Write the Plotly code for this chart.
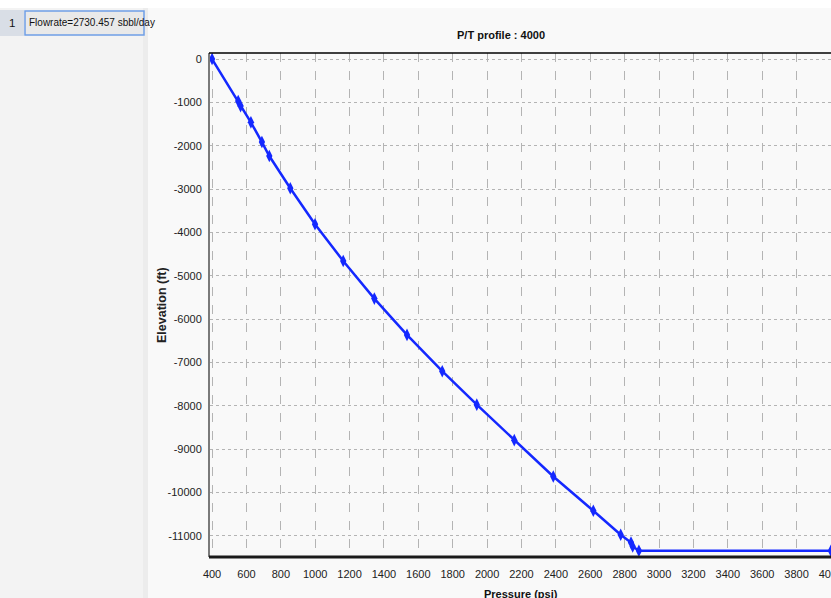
import plotly.graph_objects as go

# ---- data ----
pressure_psi = [400, 552, 566, 626, 690, 733, 855, 999, 1163, 1344, 1534, 1739, 1940,
                2158, 2385, 2618, 2777, 2837, 2847, 2883, 4000]
elevation_ft = [0, -970, -1085, -1460, -1915, -2237, -2982, -3813, -4659, -5527, -6365,
                -7203, -7975, -8794, -9633, -10424, -10978, -11155, -11248, -11347, -11347]
x_ticks = list(range(400, 4001, 200))
y_ticks = list(range(0, -11001, -1000))
y_tick_text = [str(v) for v in y_ticks]
chart_title = "P/T profile : 4000"
x_title = "Pressure (psi)"
y_title = "Elevation (ft)"
panel_item_no = "1"
panel_item_text = "Flowrate=2730.457 sbbl/day"

W, H = 831, 598
L, R, T, B = 210, 831, 53, 557


def px(x):
    return (x - L) / (R - L)


def py(y):
    return (B - y) / (B - T)


FAM = "Liberation Sans, Arial, sans-serif"


def nf(size, color="#222222", weight="normal"):
    return dict(family=FAM, size=size, color=color, weight=weight)


fig = go.Figure()
fig.add_trace(go.Scatter(
    x=pressure_psi, y=elevation_ft, mode="lines+markers",
    line=dict(color="#1428ff", width=2.5),
    marker=dict(symbol="diamond-tall", size=9, color="#1428ff"),
    cliponaxis=False, showlegend=False,
))

shapes = [
    dict(type="rect", xref="paper", yref="paper", x0=px(0), x1=px(143), y0=py(598), y1=py(8),
         fillcolor="#f3f3f3", line_width=0, layer="below"),
    dict(type="rect", xref="paper", yref="paper", x0=px(143), x1=px(148), y0=py(598), y1=py(8),
         fillcolor="#ececec", line_width=0, layer="below"),
    dict(type="rect", xref="paper", yref="paper", x0=px(0), x1=px(831), y0=py(8), y1=py(0),
         fillcolor="#ffffff", line_width=0, layer="below"),
    dict(type="rect", xref="paper", yref="paper", x0=px(0), x1=px(24), y0=py(36), y1=py(10),
         fillcolor="#d9dee6", line_width=0, layer="below"),
    dict(type="rect", xref="paper", yref="paper", x0=px(25), x1=px(144), y0=py(35), y1=py(11),
         fillcolor="#e9e9e9", line=dict(color="#6f9fe6", width=1.5), layer="below"),
    dict(type="line", xref="paper", yref="paper", x0=px(209), x1=px(831), y0=1, y1=1,
         line=dict(color="#000000", width=1.5)),
    dict(type="line", xref="paper", yref="paper", x0=px(209), x1=px(831), y0=0, y1=0,
         line=dict(color="#1a1a1a", width=3)),
]

annotations = [
    dict(text=chart_title, xref="paper", yref="paper", x=px(501), y=py(35),
         showarrow=False, font=nf(11, "#111111", "bold"),
         xanchor="center", yanchor="middle"),
    dict(text=y_title, xref="paper", yref="paper", x=px(162), y=py(305),
         showarrow=False, textangle=-90,
         font=nf(12.5, "#222222", "bold"),
         xanchor="center", yanchor="middle"),
    dict(text=x_title, xref="paper", yref="paper", x=px(521), y=py(586),
         showarrow=False, font=nf(11, "#111111", "bold"),
         xanchor="center", yanchor="top"),
    dict(text=panel_item_no, xref="paper", yref="paper", x=px(12), y=py(23),
         showarrow=False, font=nf(11.5, "#111111"),
         xanchor="center", yanchor="middle"),
    dict(text=panel_item_text, xref="paper", yref="paper", x=px(27), y=py(23),
         showarrow=False, font=nf(10, "#111111"),
         xanchor="left", yanchor="middle"),
]

fig.update_layout(
    width=W, height=H,
    margin=dict(l=L, r=W - R, t=T, b=H - B, pad=0, autoexpand=False),
    paper_bgcolor="#f9f9f9", plot_bgcolor="#f9f9f9",
    shapes=shapes, annotations=annotations,
    font=nf(11),
)
fig.update_xaxes(
    range=[388, 4000.5], tickvals=x_ticks, ticktext=[str(v) for v in x_ticks],
    showgrid=True, gridcolor="#b4b4b4", griddash="dash", gridwidth=1,
    showline=False, zeroline=False, ticks="", ticklabelstandoff=9,
    ticklabeloverflow="allow", automargin=False,
    tickfont=nf(11),
)
fig.update_yaxes(
    range=[-11490, 140], tickvals=y_ticks, ticktext=y_tick_text,
    showgrid=True, gridcolor="#b4b4b4", griddash="dot", gridwidth=1,
    showline=True, linecolor="#7a7a7a", linewidth=2, zeroline=False, ticks="",
    ticklabelstandoff=4, automargin=False,
    tickfont=nf(11),
)

fig.write_html("out.html")
